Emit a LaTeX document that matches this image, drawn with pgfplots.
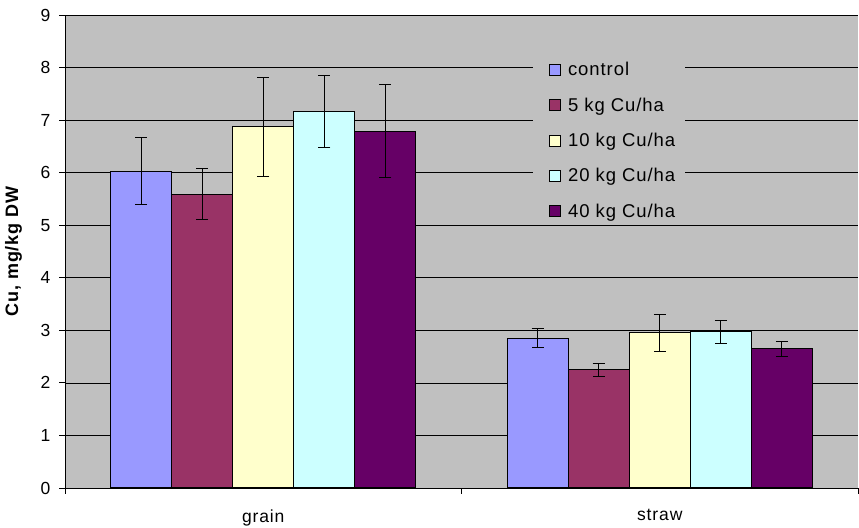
\documentclass[border=0pt]{standalone}
\usepackage{pgfplots}
\pgfplotsset{compat=1.18}
\usepackage{fontspec}
\setmainfont[LetterSpace=5]{Liberation Sans}
\definecolor{plotgray}{HTML}{C0C0C0}
\definecolor{cctrl}{HTML}{9999FF}
\definecolor{cfive}{HTML}{993366}
\definecolor{cten}{HTML}{FFFFCC}
\definecolor{ctwenty}{HTML}{CCFFFF}
\definecolor{cforty}{HTML}{660066}
\begin{document}
\begin{tikzpicture}
\begin{axis}[
scale only axis,
width=793bp, height=473bp,
ybar=0pt, bar width=0.154,
xmin=-0.5, xmax=1.5, ymin=0, ymax=9,
xtick={-0.5,0.5,1.5}, xticklabels={},
extra x ticks={0,1}, extra x tick labels={grain,straw},
extra x tick style={major tick length=0pt, tick label style={yshift=-18bp}},
ytick={0,...,9},
tick align=outside, major tick length=6bp,
tick style={black, line width=0.8bp},
axis lines*=left,
axis line style={black, line width=0.8bp, -},
axis background/.style={fill=plotgray},
ymajorgrids=true, xmajorgrids=false,
grid style={black, line width=0.7bp},
tick label style={font=\fontsize{17.5bp}{19bp}\selectfont},
yticklabel style={xshift=-5bp},
/pgf/number format/assume math mode=true,
ylabel={\bfseries Cu, mg/kg DW},
ylabel style={font=\fontsize{18bp}{20bp}\selectfont, yshift=12bp},
legend style={at={(0.59,0.911)}, anchor=north west, fill=plotgray, draw=none,
  font=\fontsize{18.5bp}{20bp}\selectfont, row sep=16.5bp, legend cell align=left,
  inner xsep=8bp, inner ysep=3bp},
legend image code/.code={\path (0bp,0bp); \draw[#1,draw=black,line width=0.8bp] (8bp,-5.5bp) rectangle (19bp,5.5bp); \path (24bp,0bp);},
every axis plot/.append style={draw=black, line width=1bp,
  error bars/y dir=both, error bars/y explicit,
  error bars/error bar style={black, line width=1bp},
  error bars/error mark options={black, rotate=90, mark size=6bp, line width=1bp}},
]
\addplot[fill=cctrl] coordinates {(0,6.03) +- (0,0.63) (1,2.85) +- (0,0.18)};
\addplot[fill=cfive] coordinates {(0,5.59) +- (0,0.48) (1,2.25) +- (0,0.12)};
\addplot[fill=cten] coordinates {(0,6.87) +- (0,0.94) (1,2.95) +- (0,0.35)};
\addplot[fill=ctwenty] coordinates {(0,7.16) +- (0,0.69) (1,2.97) +- (0,0.22)};
\addplot[fill=cforty] coordinates {(0,6.79) +- (0,0.88) (1,2.65) +- (0,0.14)};
\legend{control, 5 kg Cu/ha, 10 kg Cu/ha, 20 kg Cu/ha, 40 kg Cu/ha}
\end{axis}
\pgfresetboundingbox
\path (current axis.south west) ++(-65bp,-40bp) rectangle ([xshift=1bp,yshift=15bp]current axis.north east);
\end{tikzpicture}
\end{document}
